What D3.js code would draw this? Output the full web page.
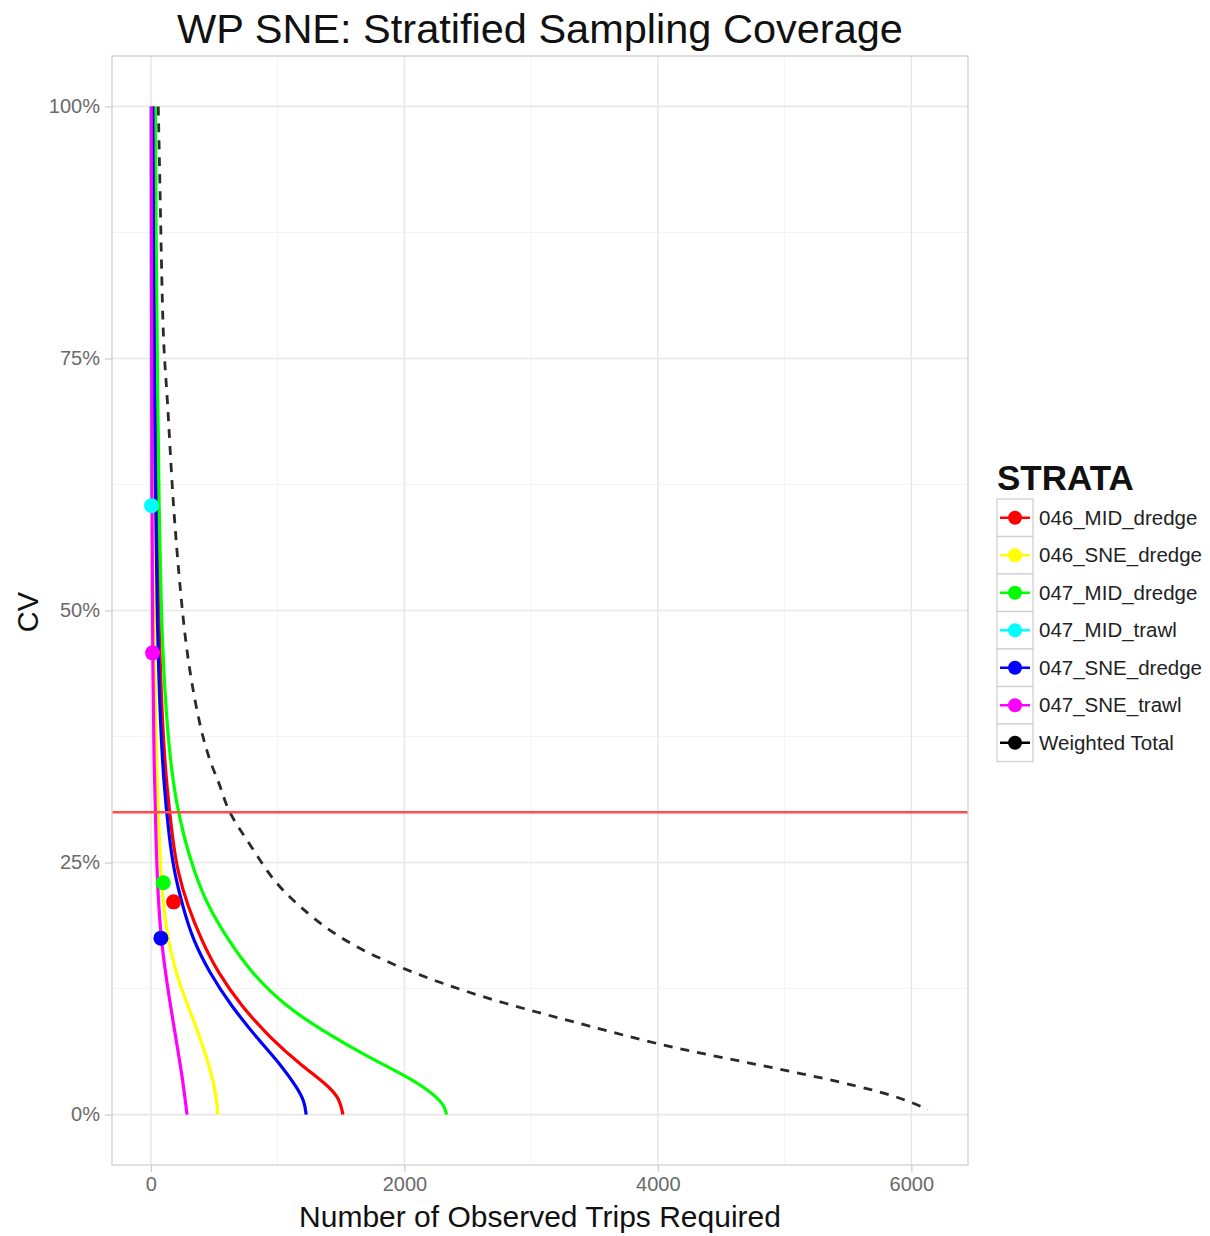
<!DOCTYPE html>
<html><head><meta charset="utf-8">
<script src="https://cdn.jsdelivr.net/npm/d3@7"></script>
<style>body{margin:0;background:#fff;} text{font-family:"Liberation Sans",Arial,sans-serif;}</style>
</head><body>
<svg id="c" width="1210" height="1236"></svg>
<script>
// ---- data ----
const strata = ["046_MID_dredge","046_SNE_dredge","047_MID_dredge","047_MID_trawl","047_SNE_dredge","047_SNE_trawl","Weighted Total"];
const colors = ["#FF0000","#FFFF00","#00FF00","#00FFFF","#0000FF","#FF00FF","#000000"];
// curves: [trips, cv]
const curve046MID = [[22,1.0],[30,0.8],[42,0.65],[60,0.5],[85,0.4],[120,0.33],[171,0.2735],[211,0.2405],[290,0.207],[395,0.174],[527,0.141],[711,0.108],[949,0.075],[1186,0.049],[1397,0.029],[1489,0.0158],[1515,0.0]];
const curve046SNE = [[5,1.0],[10,0.8],[18,0.6],[30,0.45],[45,0.34],[66,0.2735],[92,0.207],[158,0.158],[237,0.125],[343,0.092],[435,0.059],[487,0.036],[519,0.0158],[527,0.0]];
const curve047MID = [[35,1.0],[42,0.85],[53,0.709],[65,0.6],[79,0.511],[100,0.44],[132,0.379],[165,0.34],[200,0.31],[264,0.2735],[343,0.2405],[448,0.207],[606,0.174],[790,0.141],[1054,0.108],[1370,0.082],[1686,0.059],[2003,0.039],[2213,0.0225],[2319,0.009],[2332,0.0]];
const curve047MIDtrawl = [[0,1.0],[2,0.8],[4,0.6]];
const curve047SNE = [[15,1.0],[22,0.8],[32,0.65],[48,0.5],[70,0.4],[100,0.33],[145,0.2735],[184,0.2405],[250,0.207],[329,0.174],[461,0.141],[632,0.108],[843,0.075],[1028,0.049],[1159,0.0258],[1212,0.0126],[1225,0.0]];
const curve047SNEtrawl = [[3,1.0],[5,0.8],[8,0.6],[14,0.45],[24,0.35],[40,0.2735],[53,0.224],[79,0.174],[132,0.125],[198,0.075],[250,0.036],[285,0.0]];
const curveTotal = [[58,1.0],[75,0.9],[90,0.8],[105,0.75],[132,0.709],[171,0.61],[237,0.511],[295,0.445],[395,0.379],[480,0.345],[553,0.325],[606,0.30],[790,0.267],[949,0.234],[1159,0.2075],[1449,0.178],[1792,0.155],[2187,0.135],[2582,0.118],[3030,0.102],[3426,0.089],[3986,0.070],[4565,0.055],[5145,0.0406],[5725,0.0241],[5990,0.013],[6130,0.005]];
const curves = [curve046MID, curve046SNE, curve047MID, curve047MIDtrawl, curve047SNE, curve047SNEtrawl, curveTotal];
// current coverage points
const pointStrata = [0,2,3,4,5];
const pointTrips = [179,97,5,79,13];
const pointCV = [0.211,0.230,0.604,0.175,0.458];
const targetCV = 0.30;
const xTicks = [0,2000,4000,6000];
const yTicks = [0,0.25,0.5,0.75,1.0];
const xMinor = [1000,3000,5000];
const yMinor = [0.125,0.375,0.625,0.875];

// ---- layout ----
const svg = d3.select("#c");
const L = 112, R = 968, T = 56, B = 1165;
const x = d3.scaleLinear().domain([-307, 6447]).range([L, R]);
const y = d3.scaleLinear().domain([-0.05, 1.05]).range([B, T]);

// grid
const g = svg.append("g");
g.selectAll(".xm").data(xMinor).join("line").attr("x1",d=>x(d)).attr("x2",d=>x(d)).attr("y1",T).attr("y2",B).attr("stroke","#f4f4f4").attr("stroke-width",1);
g.selectAll(".ym").data(yMinor).join("line").attr("x1",L).attr("x2",R).attr("y1",d=>y(d)).attr("y2",d=>y(d)).attr("stroke","#f4f4f4").attr("stroke-width",1);
g.selectAll(".xM").data(xTicks).join("line").attr("x1",d=>x(d)).attr("x2",d=>x(d)).attr("y1",T).attr("y2",B).attr("stroke","#e8e8e8").attr("stroke-width",1.6);
g.selectAll(".yM").data(yTicks).join("line").attr("x1",L).attr("x2",R).attr("y1",d=>y(d)).attr("y2",d=>y(d)).attr("stroke","#e8e8e8").attr("stroke-width",1.6);

// curves
const line = d3.line().x(d=>x(d[0])).y(d=>y(d[1])).curve(d3.curveBasis);
curves.forEach((c,i)=>{
  const p = svg.append("path").datum(c).attr("d",line).attr("fill","none")
    .attr("stroke", i===6 ? "#2a2a2a" : colors[i]).attr("stroke-width", i===6 ? 2.8 : 3.2);
  if(i===6) p.attr("stroke-dasharray","9,8");
});
// target line
svg.append("line").attr("x1",L).attr("x2",R).attr("y1",y(targetCV)).attr("y2",y(targetCV)).attr("stroke","#FF4D4D").attr("stroke-width",2.5);
// points
svg.selectAll(".pt").data(pointStrata).join("circle")
  .attr("cx",(d,i)=>x(pointTrips[i])).attr("cy",(d,i)=>y(pointCV[i])).attr("r",7.5).attr("fill",d=>colors[d]);

// panel border
svg.append("rect").attr("x",L).attr("y",T).attr("width",R-L).attr("height",B-T).attr("fill","none").attr("stroke","#cfcfcf").attr("stroke-width",1.3);

// axes
const xa = svg.append("g").attr("transform",`translate(0,${B})`).call(d3.axisBottom(x).tickValues(xTicks).tickSize(7).tickPadding(5).tickFormat(d3.format("d")));
const ya = svg.append("g").attr("transform",`translate(${L},0)`).call(d3.axisLeft(y).tickValues(yTicks).tickSize(7).tickPadding(5).tickFormat(d=>Math.round(d*100)+"%"));
[xa,ya].forEach(a=>{a.select(".domain").remove(); a.selectAll(".tick line").attr("stroke","#cfcfcf").attr("stroke-width",1.3);
  a.selectAll(".tick text").attr("fill","#6a6a6a").style("font-size","20px").style("font-family","'Liberation Sans',Arial,sans-serif");});

// titles
svg.append("text").attr("x",540).attr("y",43).attr("text-anchor","middle").style("font-size","41.5px").attr("fill","#111").text("WP SNE: Stratified Sampling Coverage");
svg.append("text").attr("x",540).attr("y",1227).attr("text-anchor","middle").style("font-size","30px").attr("fill","#111").text("Number of Observed Trips Required");
svg.append("text").attr("transform","translate(38,612) rotate(-90)").attr("text-anchor","middle").style("font-size","29px").attr("fill","#111").text("CV");

// legend
const lg = svg.append("g");
lg.append("text").attr("x",997).attr("y",490).style("font-size","35px").style("font-weight","bold").attr("fill","#111").text("STRATA");
const kx = 997, ky0 = 499, kh = 37.5, kw = 36;
strata.forEach((s,i)=>{
  const yy = ky0 + i*kh;
  lg.append("rect").attr("x",kx).attr("y",yy).attr("width",kw).attr("height",kh).attr("fill","#fff").attr("stroke","#d0d0d0").attr("stroke-width",1.3);
  lg.append("line").attr("x1",kx+3).attr("x2",kx+kw-3).attr("y1",yy+kh/2).attr("y2",yy+kh/2).attr("stroke",colors[i]).attr("stroke-width",2.5);
  lg.append("circle").attr("cx",kx+kw/2).attr("cy",yy+kh/2).attr("r",7).attr("fill",colors[i]);
  lg.append("text").attr("x",1039).attr("y",yy+kh/2+7).style("font-size","20.5px").attr("fill","#222").text(s);
});
</script>
</body></html>
